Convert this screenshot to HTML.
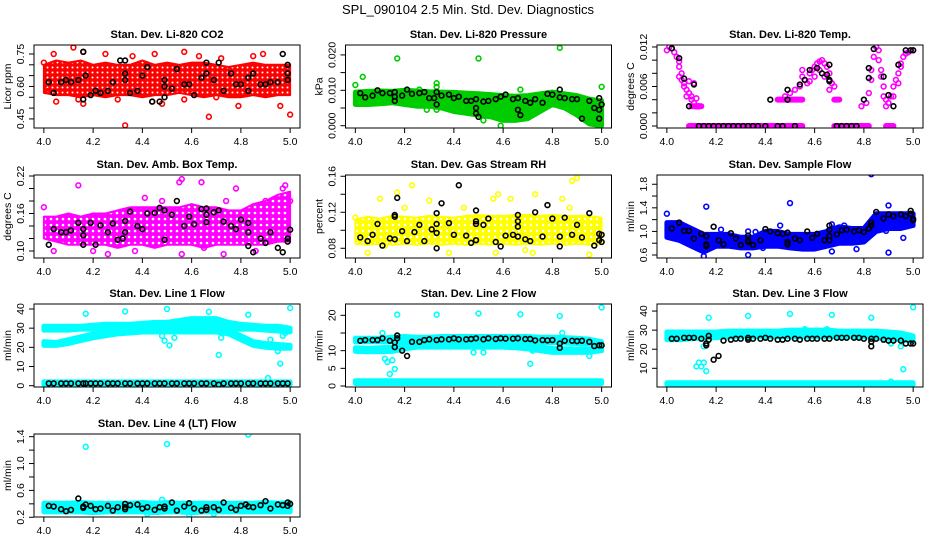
<!DOCTYPE html>
<html><head><meta charset="utf-8"><title>SPL_090104 Diagnostics</title>
<style>
html,body{margin:0;padding:0;background:#fff;}
svg{display:block;font-family:"Liberation Sans",Arial,sans-serif;}
</style></head>
<body>
<svg id="chart" width="936" height="540" viewBox="0 0 936 540" xmlns="http://www.w3.org/2000/svg">
<defs>
<pattern id="patRed" width="5" height="5" patternUnits="userSpaceOnUse"><rect width="5" height="5" fill="#ff0000"/><circle cx="2.5" cy="2.5" r="1" fill="#fff"/></pattern>
<pattern id="patMag" width="6" height="6" patternUnits="userSpaceOnUse"><rect width="6" height="6" fill="#ff00ff"/><circle cx="3" cy="3" r="1.3" fill="#fff"/></pattern>
<pattern id="patYel" width="6" height="6" patternUnits="userSpaceOnUse"><rect width="6" height="6" fill="#ffff00"/><circle cx="3" cy="3" r="1.2" fill="#fff"/></pattern>
</defs>
<text x="468" y="14" font-size="13" text-anchor="middle">SPL_090104  2.5 Min. Std. Dev. Diagnostics</text>
</svg>
<script>
// shared x grid for dense-cloud envelopes
const gridX = [4.0,4.05,4.1,4.15,4.2,4.25,4.3,4.35,4.4,4.45,4.5,4.55,4.6,4.65,4.7,4.75,4.8,4.85,4.9,4.95,5.0];
const xTicks = [4.0,4.2,4.4,4.6,4.8,5.0];
const xTickLabels = ["4.0","4.2","4.4","4.6","4.8","5.0"];

// ---- Panel 1: CO2
const co2Lo = [0.57,0.56,0.56,0.55,0.56,0.55,0.56,0.56,0.55,0.56,0.56,0.57,0.56,0.55,0.56,0.55,0.55,0.56,0.55,0.56,0.56];
const co2Hi = [0.70,0.72,0.71,0.72,0.70,0.71,0.70,0.70,0.72,0.70,0.71,0.70,0.71,0.71,0.70,0.69,0.70,0.71,0.70,0.70,0.70];
const co2Out = [[4.0,0.71],[4.04,0.75],[4.12,0.78],[4.16,0.76],[4.16,0.52],[4.05,0.53],[4.14,0.54],[4.25,0.75],[4.33,0.42],[4.36,0.74],[4.45,0.75],[4.57,0.76],[4.57,0.54],[4.67,0.46],[4.63,0.74],[4.79,0.51],[4.89,0.75],[4.96,0.51],[5.0,0.47],[4.44,0.53],[4.48,0.52],[4.72,0.73],[4.02,0.58],[4.3,0.54],[4.7,0.55],[4.85,0.74]];
const co2Black = [[4.02,0.62],[4.04,0.57],[4.07,0.62],[4.09,0.63],[4.11,0.62],[4.14,0.63],[4.16,0.76],[4.16,0.54],[4.17,0.65],[4.19,0.56],[4.21,0.58],[4.23,0.57],[4.26,0.58],[4.28,0.62],[4.31,0.72],[4.33,0.72],[4.33,0.63],[4.33,0.66],[4.35,0.57],[4.38,0.58],[4.40,0.65],[4.42,0.69],[4.44,0.53],[4.47,0.53],[4.49,0.60],[4.49,0.63],[4.49,0.55],[4.52,0.59],[4.54,0.68],[4.57,0.61],[4.59,0.61],[4.61,0.56],[4.64,0.64],[4.66,0.71],[4.66,0.66],[4.69,0.63],[4.71,0.71],[4.73,0.58],[4.76,0.66],[4.78,0.61],[4.80,0.61],[4.83,0.64],[4.83,0.58],[4.85,0.66],[4.88,0.61],[4.90,0.61],[4.92,0.62],[4.95,0.62],[4.97,0.75],[4.99,0.70],[4.99,0.66],[4.99,0.63]];

// ---- Panel 2: Pressure
const presLo = [0.006,0.006,0.0062,0.0065,0.006,0.0055,0.0055,0.005,0.004,0.0035,0.003,0.0025,0.0015,0.0015,0.002,0.004,0.006,0.005,0.003,0.0005,0.0];
const presHi = [0.0095,0.0097,0.0098,0.0097,0.0100,0.0098,0.0096,0.0095,0.0094,0.0092,0.009,0.0088,0.0085,0.0083,0.0085,0.009,0.0095,0.009,0.0085,0.0075,0.007];
const presOut = [[4.0,0.0115],[4.03,0.0138],[4.17,0.019],[4.5,0.019],[4.83,0.022],[5.0,0.011],[4.33,0.012],[4.33,0.011],[4.59,0.0],[4.52,0.0015],[4.67,0.0102],[4.29,0.0045],[4.33,0.0045],[4.26,0.0102]];
const presBlack = [[4.02,0.0092],[4.04,0.008],[4.07,0.0085],[4.09,0.010],[4.11,0.0092],[4.14,0.0092],[4.16,0.0095],[4.16,0.0082],[4.16,0.007],[4.19,0.0085],[4.21,0.0102],[4.23,0.009],[4.26,0.0092],[4.28,0.0095],[4.30,0.0078],[4.32,0.0078],[4.33,0.006],[4.33,0.0095],[4.35,0.0085],[4.38,0.0088],[4.40,0.0078],[4.42,0.0082],[4.45,0.007],[4.47,0.007],[4.49,0.0075],[4.49,0.005],[4.49,0.0035],[4.50,0.0025],[4.52,0.0068],[4.54,0.007],[4.57,0.0075],[4.59,0.0082],[4.61,0.0088],[4.64,0.0075],[4.66,0.0078],[4.66,0.0045],[4.67,0.003],[4.69,0.007],[4.71,0.0065],[4.73,0.0075],[4.76,0.0065],[4.78,0.009],[4.80,0.0088],[4.83,0.0102],[4.83,0.008],[4.85,0.0078],[4.88,0.0075],[4.90,0.0075],[4.92,0.002],[4.95,0.007],[4.97,0.005],[4.99,0.0045],[4.99,0.002],[4.99,0.0078],[5.0,0.006]];

// ---- Panel 3: Li-820 Temp
const tempPts = [[4.00,0.0115],[4.01,0.012],[4.02,0.0118],[4.03,0.0112],[4.04,0.0105],[4.05,0.0098],[4.05,0.009],[4.06,0.008],[4.06,0.007],[4.07,0.0065],[4.07,0.006],[4.08,0.0055],[4.08,0.0045],[4.09,0.005],[4.10,0.0045],[4.10,0.004],[4.11,0.0035],[4.12,0.003],[4.12,0.0042],[4.13,0.003],[4.11,0.0065],[4.09,0.0068],[4.05,0.0075],[4.48,0.0045],[4.50,0.005],[4.52,0.0055],[4.54,0.006],[4.55,0.0075],[4.56,0.007],[4.57,0.0065],[4.58,0.008],[4.59,0.0085],[4.60,0.009],[4.61,0.0095],[4.62,0.0085],[4.63,0.010],[4.64,0.0095],[4.65,0.009],[4.66,0.008],[4.67,0.0065],[4.68,0.006],[4.66,0.0055],[4.60,0.0075],[4.58,0.0068],[4.64,0.0075],[4.55,0.0085],[4.62,0.0098],[4.79,0.003],[4.81,0.0035],[4.82,0.005],[4.83,0.007],[4.83,0.0085],[4.84,0.0105],[4.85,0.012],[4.86,0.0115],[4.86,0.010],[4.87,0.0085],[4.87,0.0075],[4.88,0.006],[4.88,0.0045],[4.89,0.004],[4.89,0.003],[4.90,0.0035],[4.91,0.0045],[4.92,0.006],[4.93,0.007],[4.94,0.008],[4.95,0.009],[4.95,0.0095],[4.96,0.0105],[4.97,0.011],[4.98,0.0112],[4.99,0.0115],[5.0,0.0115],[4.92,0.0045],[4.94,0.0065]];
const tempRuns = [[4.09,4.55,0],[4.68,4.82,0],[4.89,4.92,0],[4.45,4.55,0.004],[4.68,4.70,0.004],[4.10,4.14,0.003]];
const tempBlack = [[4.02,0.0118],[4.05,0.0103],[4.07,0.0072],[4.09,0.003],[4.11,0.0063],[4.13,0],[4.15,0],[4.17,0],[4.19,0],[4.21,0],[4.23,0],[4.25,0],[4.27,0],[4.29,0],[4.31,0],[4.33,0],[4.35,0],[4.37,0],[4.40,0],[4.45,0],[4.47,0],[4.52,0],[4.42,0.004],[4.49,0.0055],[4.49,0.004],[4.54,0.0063],[4.56,0.007],[4.58,0.0085],[4.61,0.0088],[4.63,0.008],[4.65,0.0078],[4.66,0.007],[4.66,0.0068],[4.66,0.0093],[4.69,0],[4.71,0],[4.73,0],[4.75,0],[4.77,0],[4.80,0.004],[4.82,0.0073],[4.82,0.0088],[4.84,0.0117],[4.88,0.0075],[4.90,0.0047],[4.92,0.003],[4.94,0.0093],[4.97,0.0115],[4.99,0.0115],[5.0,0.0115]];

// ---- Panel 4: Amb Box Temp
const boxLo = [0.12,0.115,0.11,0.11,0.11,0.11,0.105,0.11,0.11,0.105,0.11,0.11,0.11,0.105,0.11,0.11,0.11,0.11,0.11,0.115,0.115];
const boxHi = [0.155,0.155,0.16,0.155,0.16,0.16,0.165,0.17,0.17,0.17,0.17,0.17,0.175,0.17,0.17,0.165,0.165,0.175,0.18,0.19,0.195];
const boxOut = [[4.14,0.205],[4.26,0.095],[4.55,0.21],[4.56,0.215],[4.64,0.21],[4.78,0.2],[4.73,0.095],[4.98,0.205],[4.97,0.2],[4.04,0.10],[4.2,0.10],[4.37,0.10],[4.56,0.095],[4.65,0.105],[4.86,0.1],[4.41,0.185],[4.48,0.18],[4.74,0.18],[4.9,0.18],[5.0,0.18],[4.0,0.17]];
const boxBlack = [[4.02,0.11],[4.04,0.135],[4.07,0.13],[4.09,0.13],[4.11,0.133],[4.14,0.145],[4.16,0.135],[4.16,0.125],[4.16,0.11],[4.19,0.145],[4.21,0.11],[4.23,0.141],[4.26,0.13],[4.28,0.144],[4.30,0.118],[4.32,0.12],[4.33,0.13],[4.33,0.148],[4.35,0.163],[4.38,0.14],[4.40,0.135],[4.42,0.16],[4.45,0.161],[4.47,0.169],[4.49,0.165],[4.49,0.118],[4.52,0.158],[4.54,0.18],[4.57,0.14],[4.59,0.155],[4.61,0.143],[4.64,0.167],[4.66,0.168],[4.66,0.158],[4.66,0.146],[4.69,0.162],[4.71,0.165],[4.73,0.147],[4.76,0.14],[4.78,0.135],[4.80,0.15],[4.83,0.145],[4.83,0.13],[4.83,0.108],[4.85,0.098],[4.88,0.12],[4.90,0.113],[4.92,0.13],[4.95,0.105],[4.97,0.098],[4.99,0.115],[4.99,0.12],[5.0,0.134]];

// ---- Panel 5: Gas Stream RH
const rhLo = [0.085,0.084,0.085,0.084,0.085,0.084,0.085,0.084,0.085,0.084,0.085,0.084,0.085,0.084,0.085,0.084,0.085,0.084,0.085,0.084,0.085];
const rhHi = [0.112,0.115,0.113,0.116,0.115,0.114,0.116,0.115,0.114,0.116,0.117,0.116,0.116,0.117,0.117,0.116,0.117,0.116,0.116,0.116,0.114];
const rhOut = [[4.23,0.15],[4.17,0.142],[4.1,0.135],[4.05,0.075],[4.12,0.083],[4.3,0.133],[4.38,0.075],[4.56,0.135],[4.58,0.14],[4.57,0.075],[4.73,0.14],[4.84,0.135],[4.88,0.155],[4.90,0.158],[4.95,0.073],[4.72,0.075],[4.63,0.135],[4.44,0.125],[4.2,0.125],[4.0,0.114],[4.87,0.125],[4.69,0.078]];
const rhBlack = [[4.02,0.092],[4.05,0.088],[4.07,0.095],[4.09,0.107],[4.11,0.083],[4.14,0.091],[4.16,0.09],[4.16,0.115],[4.16,0.117],[4.17,0.136],[4.19,0.099],[4.21,0.088],[4.24,0.098],[4.26,0.106],[4.28,0.088],[4.31,0.101],[4.33,0.119],[4.33,0.107],[4.33,0.097],[4.33,0.080],[4.35,0.13],[4.38,0.108],[4.40,0.095],[4.42,0.15],[4.45,0.094],[4.47,0.086],[4.49,0.122],[4.49,0.11],[4.49,0.107],[4.49,0.089],[4.52,0.106],[4.54,0.113],[4.57,0.087],[4.59,0.082],[4.61,0.094],[4.64,0.095],[4.66,0.117],[4.66,0.11],[4.66,0.104],[4.66,0.093],[4.69,0.09],[4.71,0.088],[4.73,0.12],[4.76,0.093],[4.78,0.128],[4.80,0.113],[4.83,0.093],[4.83,0.082],[4.85,0.114],[4.88,0.095],[4.90,0.106],[4.92,0.092],[4.95,0.119],[4.97,0.083],[4.99,0.096],[4.99,0.089],[5.0,0.087],[5.0,0.095]];

// ---- Panel 6: Sample Flow
const sfLo = [0.9,0.85,0.75,0.65,0.75,0.75,0.72,0.72,0.75,0.75,0.72,0.7,0.7,0.75,0.8,0.8,0.82,1.0,1.05,1.05,1.1];
const sfHi = [1.15,1.15,1.05,0.95,0.95,0.95,0.9,0.9,1.0,1.0,0.95,0.95,0.95,1.0,1.08,1.05,1.05,1.3,1.3,1.3,1.3];
const sfOut = [[4.0,1.3],[4.16,1.42],[4.22,1.03],[4.15,0.58],[4.33,0.6],[4.46,1.1],[4.50,1.48],[4.67,1.12],[4.67,0.66],[4.83,1.97],[4.90,1.44],[4.90,0.64],[4.96,0.89],[4.89,1.01],[4.77,0.7],[4.33,1.0],[4.36,0.99],[4.72,1.1],[4.39,0.72]];
const sfBlack = [[4.02,1.05],[4.05,1.15],[4.07,1.01],[4.09,1.01],[4.11,0.88],[4.14,0.96],[4.16,0.92],[4.16,0.78],[4.16,0.75],[4.19,1.08],[4.21,0.85],[4.23,0.78],[4.26,0.97],[4.28,0.88],[4.30,0.77],[4.33,0.93],[4.33,0.85],[4.33,0.82],[4.35,0.77],[4.38,0.85],[4.40,1.04],[4.42,1.0],[4.45,0.97],[4.47,0.96],[4.49,0.98],[4.49,0.82],[4.49,0.78],[4.52,0.88],[4.54,0.85],[4.57,1.0],[4.59,0.89],[4.61,0.96],[4.64,0.85],[4.66,0.92],[4.66,0.85],[4.66,1.03],[4.66,1.1],[4.69,0.95],[4.71,1.02],[4.73,1.03],[4.76,1.0],[4.78,1.02],[4.80,0.99],[4.82,1.05],[4.83,1.1],[4.83,1.15],[4.85,1.33],[4.88,1.22],[4.90,1.29],[4.92,1.26],[4.95,1.29],[4.97,1.26],[4.99,1.35],[4.99,1.3],[5.0,1.21],[5.0,1.19]];

// ---- Panel 7: Line 1 Flow
const l1UpLo = [29,29,29,29.5,29.5,30,30,30,30,30.5,30.5,31,31,31,31,30,29.5,29.5,29,28.5,28];
const l1UpHi = [31,31,31,31,31.5,32,32,32,32.5,33,33,34,35,35,35,33,32,31.5,31,31,30];
const l1LowLo = [21,21,22,23.5,25,26,27,27.5,28,28,28,28,28,28,28,27,24,21,20,19.5,19.5];
const l1LowHi = [23,22.5,24,25.5,27,28,29,29.5,30,30,30,30,30,30,30,29,26,23,22,21.5,21];
const l1BaseLo = [0.5,0.5,0.5,0.5,0.5,0.5,0.5,0.5,0.5,0.5,0.5,0.5,0.5,0.5,0.5,0.5,0.5,0.5,0.5,0.5,0.5];
const l1BaseHi = [2,2,2,2,2,2,2,2,2,2,2,2,2,2,2,2,2,2,2,2,2];
const l1Out = [[4.17,37.5],[4.33,38.7],[4.50,40],[4.67,38.5],[4.83,37],[5.0,40.5],[4.48,26],[4.49,23.5],[4.5,28.5],[4.51,21],[4.53,25],[4.71,16],[4.72,25],[4.91,4],[4.92,24],[4.95,18],[4.96,11.5],[4.98,27.5],[4.97,26]];
const l1BlackX = [4.02,4.04,4.07,4.09,4.11,4.14,4.16,4.17,4.19,4.21,4.23,4.26,4.28,4.30,4.33,4.35,4.38,4.40,4.42,4.45,4.47,4.49,4.52,4.54,4.57,4.59,4.61,4.64,4.66,4.69,4.71,4.73,4.76,4.78,4.80,4.83,4.85,4.88,4.90,4.92,4.95,4.97,4.99];
const l1BlackY = [1.2,1.2,1.2,1.2,1.2,1.2,1.2,1.2,1.2,1.2,1.2,1.2,1.2,1.2,1.2,1.2,1.2,1.2,1.2,1.2,1.2,1.2,1.2,1.2,1.2,1.2,1.2,1.2,1.2,1.2,0.5,1.2,1.2,1.2,1.2,1.2,1.2,1.2,1.2,1.2,1.2,1.2,1.2];

// ---- Panel 8: Line 2 Flow
const l2ALo = [12.5,12.5,12.5,12.5,11.5,11.5,11.5,11.8,12,12,12,12,12,12,12,12.2,12.3,12.2,12,12,11.5];
const l2AHi = [13.5,13.5,13.5,13.8,14,13.8,13.8,14,14,14,14,14,14,14,14,13.8,13.8,13.7,13.5,13.2,12.5];
const l2BLo = [9.8,9.7,9.7,9.8,10.5,11,11,11,11,11,11,11,11,10.8,10.5,10,9.5,9.5,9.5,9.5,10];
const l2BHi = [10.8,10.7,10.8,11,12,12.5,12.5,12.5,12.5,12.5,12.5,12.5,12.5,12,11.5,11,10.6,10.5,10.5,10.5,11];
const l2BaseLo = [0.7,0.7,0.7,0.7,0.7,0.7,0.7,0.7,0.7,0.7,0.7,0.7,0.7,0.7,0.7,0.7,0.7,0.7,0.7,0.7,0.7];
const l2BaseHi = [1.5,1.5,1.5,1.5,1.5,1.5,1.5,1.5,1.5,1.5,1.5,1.5,1.5,1.5,1.5,1.5,1.5,1.5,1.5,1.5,1.5];
const l2Out = [[4.11,15],[4.12,7.7],[4.13,6.8],[4.14,3.4],[4.15,7.3],[4.16,4.8],[4.17,20.2],[4.33,20.2],[4.50,20.5],[4.67,20.3],[4.83,19.8],[5.0,22.2],[4.71,6.3],[4.72,10],[4.48,9.5],[4.52,9.5],[4.84,15],[4.95,8.5],[4.5,11.5]];
const l2Black = [[4.02,12.8],[4.04,13],[4.07,13],[4.09,13],[4.11,13.5],[4.14,12.8],[4.16,12.3],[4.16,11],[4.17,14.3],[4.17,13.5],[4.19,10],[4.21,8.5],[4.23,12.5],[4.26,12.5],[4.28,13],[4.30,13.2],[4.33,13],[4.35,13.2],[4.38,13.2],[4.40,13.5],[4.42,13.2],[4.45,13.2],[4.47,13.3],[4.49,13.5],[4.52,13.2],[4.54,13.5],[4.57,13.3],[4.59,13.5],[4.61,13.4],[4.64,13.4],[4.66,13.5],[4.69,13.3],[4.71,13.3],[4.73,12.9],[4.76,13],[4.78,12.9],[4.80,13],[4.83,12],[4.83,10.8],[4.85,12.8],[4.88,12.8],[4.90,12.7],[4.92,12.8],[4.95,12.5],[4.97,11.3],[4.99,11.5],[5.0,11.5]];

// ---- Panel 9: Line 3 Flow
const l3Lo = [25,25,25.5,26,26,26.5,26.5,26.5,26.5,26.5,26.5,26.5,26.5,26.5,26.5,26.5,26.5,26,25.5,25,24];
const l3Hi = [29,29,29,29,29,29.5,29.5,29.5,29.5,29.5,30,30,30,30,29.5,29.5,29.5,29.5,29,28.5,27];
const l3BaseLo = [1.4,1.4,1.4,1.4,1.4,1.4,1.4,1.4,1.4,1.4,1.4,1.4,1.4,1.4,1.4,1.4,1.4,1.4,1.4,1.4,1.4];
const l3BaseHi = [2.4,2.4,2.4,2.4,2.4,2.4,2.4,2.4,2.4,2.4,2.4,2.4,2.4,2.4,2.4,2.4,2.4,2.4,2.4,2.4,2.4];
const l3Out = [[4.12,11],[4.13,13],[4.14,11],[4.15,13],[4.16,8.5],[4.15,21.5],[4.17,36.5],[4.33,37.5],[4.50,38.5],[4.67,38],[4.83,36.5],[5.0,42],[4.96,9.5],[4.95,21.5],[4.91,23],[4.91,3],[4.56,30.5],[4.65,30.5]];
const l3Black = [[4.02,25.5],[4.04,25.5],[4.07,26],[4.09,26],[4.11,26],[4.14,25.5],[4.16,23],[4.16,22],[4.17,27],[4.17,25],[4.19,14.5],[4.21,16.5],[4.23,24.5],[4.26,25],[4.28,25.5],[4.30,25.5],[4.33,26],[4.33,25],[4.35,25.5],[4.38,25.5],[4.40,26],[4.42,25.5],[4.45,25],[4.47,25],[4.49,25.5],[4.52,25.5],[4.54,25],[4.57,25.5],[4.59,25.5],[4.61,25.5],[4.64,25.5],[4.66,25.5],[4.69,26],[4.71,26],[4.73,26],[4.76,26],[4.78,26],[4.80,25.5],[4.83,25.5],[4.83,24],[4.83,21.5],[4.85,25.5],[4.88,25],[4.90,24.5],[4.92,24.5],[4.95,24.5],[4.97,23],[4.99,23],[5.0,23]];

// ---- Panel 10: Line 4 (LT) Flow
const l4Lo = [0.28,0.28,0.28,0.28,0.27,0.28,0.28,0.28,0.28,0.27,0.28,0.28,0.27,0.28,0.28,0.28,0.28,0.28,0.28,0.28,0.28];
const l4Hi = [0.41,0.41,0.41,0.42,0.41,0.41,0.41,0.41,0.42,0.41,0.42,0.41,0.41,0.41,0.41,0.41,0.41,0.41,0.42,0.41,0.42];
const l4Out = [[4.17,1.25],[4.50,1.29],[4.83,1.43],[4.48,0.46],[4.42,0.25],[4.59,0.24],[4.69,0.25]];
const l4Black = [[4.02,0.37],[4.04,0.36],[4.07,0.32],[4.09,0.29],[4.11,0.31],[4.14,0.48],[4.16,0.36],[4.16,0.34],[4.17,0.39],[4.19,0.37],[4.21,0.32],[4.23,0.33],[4.26,0.37],[4.28,0.3],[4.30,0.35],[4.33,0.4],[4.33,0.35],[4.33,0.32],[4.35,0.38],[4.38,0.39],[4.40,0.33],[4.42,0.35],[4.45,0.31],[4.47,0.35],[4.49,0.36],[4.49,0.33],[4.52,0.42],[4.54,0.3],[4.57,0.36],[4.59,0.41],[4.61,0.33],[4.64,0.3],[4.66,0.35],[4.66,0.31],[4.69,0.35],[4.71,0.31],[4.73,0.42],[4.76,0.34],[4.78,0.31],[4.80,0.37],[4.82,0.39],[4.83,0.36],[4.85,0.35],[4.88,0.38],[4.90,0.44],[4.92,0.33],[4.95,0.39],[4.97,0.38],[4.99,0.42],[4.99,0.37],[5.0,0.4]];

// y-axis tick values and labels per panel
const co2Ticks=[0.45,0.5,0.55,0.6,0.65,0.7,0.75], co2Labels=["0.45","","","0.60","","","0.75"];
const presTicks=[0,0.005,0.01,0.015,0.02], presLabels=["0.000","","0.010","","0.020"];
const tempTicks=[0,0.002,0.004,0.006,0.008,0.01,0.012], tempLabels=["0.000","","","0.006","","","0.012"];
const boxTicks=[0.1,0.12,0.14,0.16,0.18,0.2,0.22], boxLabels=["0.10","","","0.16","","","0.22"];
const rhTicks=[0.08,0.1,0.12,0.14,0.16], rhLabels=["0.08","","0.12","","0.16"];
const sfTicks=[0.6,0.8,1.0,1.2,1.4,1.6,1.8], sfLabels=["0.6","","1.0","","1.4","","1.8"];
const l1Ticks=[0,10,20,30,40], l1Labels=["0","10","20","30","40"];
const l2Ticks=[0,5,10,15,20], l2Labels=["0","5","10","","20"];
const l3Ticks=[10,20,30,40], l3Labels=["10","20","30","40"];
const l4Ticks=[0.2,0.4,0.6,0.8,1.0,1.2,1.4], l4Labels=["0.2","","0.6","","1.0","","1.4"];

const NS="http://www.w3.org/2000/svg";
const svg=document.getElementById('chart');
function mk(tag,attrs,parent){const e=document.createElementNS(NS,tag);for(const k in attrs)e.setAttribute(k,attrs[k]);(parent||svg).appendChild(e);return e;}

const COLL=[34,345.5,657], ROWT=[45,175,304,434], BW=266, BH=83;

function makePanel(col,row,title,ylab,ylim,ticks,labels,name){
  const L=COLL[col],T=ROWT[row];
  const g=mk('g',{});
  
  
  const sx=v=>L+(v-3.96)/1.08*BW;
  const sy=v=>T+BH-(v-ylim[0])/(ylim[1]-ylim[0])*BH;
  const t=mk('text',{x:L+BW/2,y:T-7,'font-size':11,'font-weight':'bold','text-anchor':'middle'},g);
  t.textContent=title;
  
  
  const yl=mk('text',{transform:`translate(${L-23},${T+BH/2}) rotate(-90)`,'font-size':10.5,'text-anchor':'middle'},g);
  yl.textContent=ylab;
  
  
  const ax=mk('g',{stroke:'#000','stroke-width':1},g);
  
  
  xTicks.forEach((v,i)=>{
    mk('line',{x1:sx(v),x2:sx(v),y1:T+BH,y2:T+BH+5},ax);
    const tl=mk('text',{x:sx(v),y:T+BH+17,'font-size':10.5,'text-anchor':'middle',stroke:'none'},ax);
    tl.textContent=xTickLabels[i];
    
    
  });
  const ay=mk('g',{stroke:'#000','stroke-width':1},g);
  
  
  ticks.forEach((v,i)=>{
    mk('line',{x1:L-5,x2:L,y1:sy(v),y2:sy(v)},ay);
    if(labels[i]){
      const tl=mk('text',{transform:`translate(${L-10},${sy(v)}) rotate(-90)`,'font-size':10.5,'text-anchor':'middle',stroke:'none'},ay);
      tl.textContent=labels[i];
      
      
    }
  });
  const clip='clip'+name;
  const cp=mk('clipPath',{id:clip},g); mk('rect',{x:L,y:T,width:BW,height:BH},cp);
  const plot=mk('g',{'clip-path':`url(#${clip})`},g);
  
  
  const box=mk('rect',{x:L,y:T,width:BW,height:BH,fill:'none',stroke:'#000','stroke-width':1},g);
  
  
  return {sx,sy,plot};
}
function band(p,lo,hi,color,nm,fill){
  let d='';
  gridX.forEach((x,i)=>{d+=(i?'L':'M')+p.sx(x).toFixed(1)+','+p.sy(hi[i]).toFixed(1);});
  for(let i=gridX.length-1;i>=0;i--)d+='L'+p.sx(gridX[i]).toFixed(1)+','+p.sy(lo[i]).toFixed(1);
  const e=mk('path',{d:d+'Z',fill:fill||color,stroke:color,'stroke-width':fill?2:5,'stroke-linejoin':'round'},p.plot);
  
  
}
function pts(p,arr,color,nm){
  arr.forEach(([x,y])=>{
    const c=mk('circle',{cx:p.sx(x),cy:p.sy(y),r:2.4,fill:'none',stroke:color,'stroke-width':1.6},p.plot);
    
    
  });
}
function ptsXY(p,xs,ys,color,nm){
  xs.forEach((x,i)=>{
    const c=mk('circle',{cx:p.sx(x),cy:p.sy(ys[i]),r:2.4,fill:'none',stroke:color,'stroke-width':1.6},p.plot);
    
    
  });
}
function runs(p,arr,color){
  arr.forEach(([a,b,y])=>{
    const l=mk('line',{x1:p.sx(a),x2:p.sx(b),y1:p.sy(y),y2:p.sy(y),stroke:color,'stroke-width':6,'stroke-linecap':'round'},p.plot);
    
    
  });
}

const RED='#ff0000',GRN='#00cd00',MAG='#ff00ff',YEL='#ffff00',BLU='#0000ff',CYN='#00ffff',BLK='#000';
let p;
p=makePanel(0,0,'Stan. Dev. Li-820 CO2','Licor ppm',[0.408,0.7915],co2Ticks,co2Labels,'co2');
band(p,co2Lo,co2Hi,RED,'co2-cloud','url(#patRed)'); pts(p,co2Out,RED,'co2-point'); pts(p,co2Black,BLK,'co2-black-point');
p=makePanel(1,0,'Stan. Dev. Li-820 Pressure','kPa',[-0.00065,0.0228],presTicks,presLabels,'pressure');
band(p,presLo,presHi,GRN,'pressure-cloud'); pts(p,presOut,GRN,'pressure-point'); pts(p,presBlack,BLK,'pressure-black-point');
p=makePanel(2,0,'Stan. Dev. Li-820 Temp.','degrees C',[-0.0003,0.0123],tempTicks,tempLabels,'li820-temp');
runs(p,tempRuns,MAG); pts(p,tempPts,MAG,'temp-point'); pts(p,tempBlack,BLK,'temp-black-point');
p=makePanel(0,1,'Stan. Dev. Amb. Box Temp.','degrees C',[0.0888,0.2216],boxTicks,boxLabels,'box-temp');
band(p,boxLo,boxHi,MAG,'box-temp-cloud','url(#patMag)'); pts(p,boxOut,MAG,'box-temp-point'); pts(p,boxBlack,BLK,'box-temp-black-point');
p=makePanel(1,1,'Stan. Dev. Gas Stream RH','percent',[0.0692,0.1614],rhTicks,rhLabels,'rh');
band(p,rhLo,rhHi,YEL,'rh-cloud','url(#patYel)'); pts(p,rhOut,YEL,'rh-point'); pts(p,rhBlack,BLK,'rh-black-point');
p=makePanel(2,1,'Stan. Dev. Sample Flow','ml/min',[0.549,1.957],sfTicks,sfLabels,'sample-flow');
band(p,sfLo,sfHi,BLU,'sample-flow-cloud'); pts(p,sfOut,BLU,'sample-flow-point'); pts(p,sfBlack,BLK,'sample-flow-black-point');
p=makePanel(0,2,'Stan. Dev. Line 1 Flow','ml/min',[-0.68,42.6],l1Ticks,l1Labels,'line1');
band(p,l1UpLo,l1UpHi,CYN,'line1-upper-cloud'); band(p,l1LowLo,l1LowHi,CYN,'line1-lower-cloud'); band(p,l1BaseLo,l1BaseHi,CYN,'line1-base-cloud');
pts(p,l1Out,CYN,'line1-point'); ptsXY(p,l1BlackX,l1BlackY,BLK,'line1-black-point');
p=makePanel(1,2,'Stan. Dev. Line 2 Flow','ml/min',[-0.28,23.2],l2Ticks,l2Labels,'line2');
band(p,l2ALo,l2AHi,CYN,'line2-upper-cloud'); band(p,l2BLo,l2BHi,CYN,'line2-mid-cloud'); band(p,l2BaseLo,l2BaseHi,CYN,'line2-base-cloud');
pts(p,l2Out,CYN,'line2-point'); pts(p,l2Black,BLK,'line2-black-point');
p=makePanel(2,2,'Stan. Dev. Line 3 Flow','ml/min',[0.2,43.7],l3Ticks,l3Labels,'line3');
band(p,l3Lo,l3Hi,CYN,'line3-cloud'); band(p,l3BaseLo,l3BaseHi,CYN,'line3-base-cloud');
pts(p,l3Out,CYN,'line3-point'); pts(p,l3Black,BLK,'line3-black-point');
p=makePanel(0,3,'Stan. Dev. Line 4 (LT) Flow','ml/min',[0.204,1.44],l4Ticks,l4Labels,'line4');
band(p,l4Lo,l4Hi,CYN,'line4-cloud'); pts(p,l4Out,CYN,'line4-point'); pts(p,l4Black,BLK,'line4-black-point');
</script>
</body></html>
